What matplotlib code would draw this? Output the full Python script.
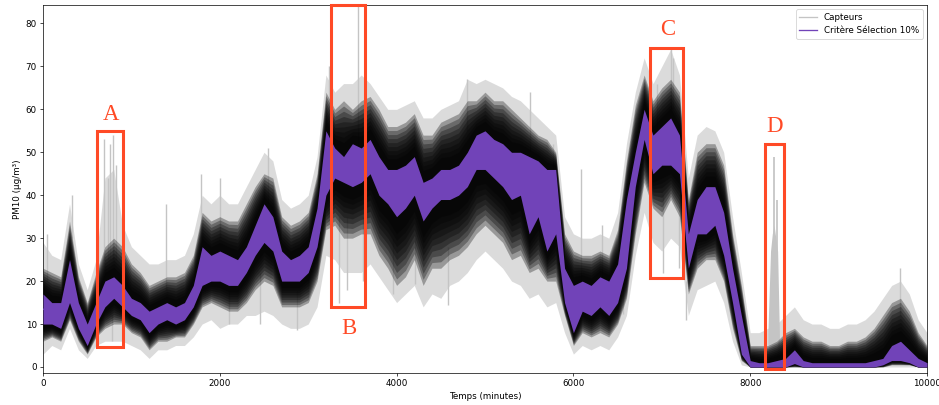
import numpy as np
import matplotlib
matplotlib.use("Agg")
import matplotlib.pyplot as plt
from matplotlib.lines import Line2D
from matplotlib.patches import Rectangle

# ---- data (minutes, PM10 µg/m³) ----
t = list(range(0, 10001, 100))
purple_lo = [10, 10, 9, 15, 9, 5, 10, 14, 16, 14, 12, 11, 8, 10, 11, 10, 11, 14, 19, 20,
             20, 19, 19, 22, 26, 29, 27, 20, 20, 20, 22, 28, 40, 44, 43, 42, 43, 45, 40, 38,
             35, 37, 40, 34, 37, 39, 39, 40, 42, 46, 46, 44, 42, 39, 40, 31, 35, 27, 31, 15,
             8, 13, 12, 14, 12, 15, 23, 42, 53, 45, 47, 47, 45, 23, 31, 31, 33, 26, 15, 3,
             0, 0, 0, 0, 0, 0.8, 0, 0, 0, 0, 0, 0, 0, 0, 0, 0.5, 1.5, 1.5, 1, 0, 0]
purple_hi = [17, 15, 15, 25, 15, 10, 15, 20, 21, 19, 16, 15, 13, 14, 15, 14, 15, 19, 28, 26,
             27, 26, 25, 28, 33, 38, 35, 27, 25, 26, 28, 37, 55, 51, 49, 52, 51, 53, 49, 46,
             46, 47, 49, 43, 44, 46, 46, 47, 50, 54, 55, 53, 52, 50, 50, 49, 48, 46, 46, 23,
             19, 20, 19, 21, 20, 24, 39, 50, 60, 54, 56, 58, 54, 31, 39, 42, 42, 36, 23, 12,
             1.5, 1, 1, 1.5, 2, 4, 1.5, 1, 1, 1, 1, 1, 1, 1, 1.5, 2, 5, 6, 4, 2, 1]
black_lo = [6, 7, 6, 11, 6, 3, 7, 9, 10, 10, 8, 7, 4, 6, 6, 7, 7, 10, 14, 15,
            14, 13, 13, 15, 18, 20, 19, 14, 14, 14, 15, 20, 32, 33, 30, 30, 31, 31, 26, 23,
            19, 21, 25, 19, 23, 23, 25, 26, 28, 31, 33, 31, 29, 25, 26, 22, 23, 20, 20, 12,
            5, 8, 7, 8, 7, 10, 16, 31, 43, 37, 35, 39, 35, 17, 23, 25, 25, 20, 9, 1.5,
            0, 0, 0, 0, 0, 0, 0, 0, 0, 0, 0, 0, 0, 0, 0, 0, 0.5, 0.5, 0.5, 0, 0]
black_hi = [23, 22, 21, 34, 21, 15, 22, 28, 30, 28, 24, 22, 19, 20, 21, 21, 22, 26, 36, 34,
            35, 34, 34, 38, 42, 45, 44, 35, 33, 34, 36, 45, 64, 60, 62, 60, 62, 63, 60, 56,
            56, 57, 59, 54, 54, 57, 58, 59, 62, 62, 64, 62, 62, 60, 58, 56, 54, 53, 50, 31,
            27, 26, 26, 27, 26, 32, 48, 61, 68, 62, 65, 67, 64, 39, 50, 52, 52, 47, 31, 19,
            5, 5, 5, 6, 8, 9, 7, 6, 6, 5, 5, 6, 6, 7, 9, 12, 15, 16, 13, 8, 5]
gray_lo = [3, 5, 4, 9, 4, 2, 5, 6, 6, 6, 5, 4, 2, 4, 4, 5, 5, 7, 10, 11,
           9, 10, 10, 12, 12, 13, 12, 10, 9, 9, 10, 14, 26, 25, 22, 22, 22, 24, 21, 18,
           15, 17, 19, 14, 17, 16, 19, 20, 22, 25, 27, 25, 23, 20, 19, 16, 17, 14, 15, 8,
           3, 5, 4, 5, 4, 7, 12, 26, 36, 29, 27, 30, 28, 12, 18, 19, 20, 15, 6, 0.5,
           0, 0, 0, 0, 0, 0, 0, 0, 0, 0, 0, 0, 0, 0, 0, 0, 0, 0, 0, 0, 0]
gray_hi = [29, 26, 25, 38, 24, 18, 25, 44, 46, 33, 28, 26, 24, 24, 25, 25, 26, 31, 40, 38,
           40, 38, 38, 42, 46, 50, 48, 39, 37, 38, 40, 49, 68, 64, 66, 66, 68, 66, 63, 60,
           60, 61, 62, 58, 58, 60, 61, 62, 67, 66, 67, 66, 65, 63, 62, 60, 58, 56, 54, 35,
           31, 30, 30, 31, 30, 36, 52, 64, 72, 66, 70, 74, 68, 44, 54, 56, 55, 50, 35, 22,
           8, 8, 9, 10, 12, 14, 11, 10, 10, 9, 9, 10, 10, 11, 13, 16, 19, 20, 17, 11, 8]

# isolated sensor spikes (upwards and downwards)
spike_up_t = [40, 330, 690, 740, 760, 790, 830, 1390, 1790, 2000, 2540, 3230, 3563,
              4800, 5510, 5770, 6086, 6320, 6950, 7100, 7130, 9695]
spike_up_base = [20, 30, 25, 25, 25, 25, 25, 18, 30, 30, 38, 55, 50,
                 55, 50, 45, 20, 20, 55, 60, 60, 12]
spike_up_top = [31, 40, 53, 44, 52, 54, 47, 38, 45, 44, 51, 70, 84,
                67, 64, 52, 46, 33, 66, 74, 72, 23]
spike_dn_t = [780, 2100, 2450, 2870, 3348, 3435, 3623, 3963, 4208, 4581,
              6565, 7017, 7194, 7274]
spike_dn_top = [12, 18, 22, 18, 35, 35, 35, 30, 30, 28, 20, 40, 40, 20]
spike_dn_bot = [6, 10, 10, 8.5, 15, 18, 20, 17, 19.4, 14.4, 12.4, 22, 23, 11]

# sensor burst in zone D
burst_t = [8200, 8230, 8250, 8270, 8290, 8310, 8330]
burst_hi = [8, 27, 31, 33, 30, 27, 8]
burst_spike_t = [8265, 8300]
burst_spike_top = [49, 39]

# annotated zones
zone_labels = ["A", "B", "C", "D"]
zone_x0 = [607, 3262, 6863, 8170]
zone_x1 = [904, 3646, 7236, 8381]
zone_y0 = [4.7, 14.0, 20.8, -0.5]
zone_y1 = [54.9, 84.4, 74.3, 52.0]
zone_lx = [768, 3457, 7066, 8279]
zone_ly = [58.8, 9.0, 78.7, 55.9]

# ---- figure ----
S = 63
fig = plt.figure(figsize=(939 / S, 405 / S), dpi=S)
ax = fig.add_axes([43 / 939, 1 - 373 / 405, (927 - 43) / 939, (373 - 5) / 405])

tt = np.array(t, dtype=float)
plo, phi = np.array(purple_lo), np.array(purple_hi)
blo, bhi = np.array(black_lo), np.array(black_hi)
glo, ghi = np.array(gray_lo), np.array(gray_hi)

GRAY = "#c4c4c4"
PURPLE = "#7143b8"
RED = "#ff4a26"

# gray sensors
ax.fill_between(tt, glo, ghi, color=GRAY, alpha=0.6, lw=0, zorder=1)
ax.vlines(spike_up_t, spike_up_base, spike_up_top, color=GRAY, lw=1.6, zorder=1)
ax.vlines(spike_dn_t, spike_dn_bot, spike_dn_top, color=GRAY, lw=1.6, zorder=1)
ax.fill_between(burst_t, 0, burst_hi, color=GRAY, lw=0, zorder=1)
ax.vlines(burst_spike_t, 0, burst_spike_top, color=GRAY, lw=2, zorder=1)

# black band, denser towards the centre (overlapping sensor traces)
for f in np.linspace(0.0, 0.75, 9):
    lo = blo + f * (plo - blo)
    hi = bhi - f * (bhi - phi)
    ax.fill_between(tt, lo, hi, color="black", alpha=0.3, lw=0, zorder=2)

# purple selection
ax.fill_between(tt, plo, phi, color=PURPLE, lw=0, zorder=3)
ax.plot(tt, (plo + phi) / 2, color=PURPLE, lw=1.5, zorder=3)

# zones
for lab, x0, x1, y0, y1, lx, ly in zip(zone_labels, zone_x0, zone_x1, zone_y0,
                                       zone_y1, zone_lx, zone_ly):
    ax.add_patch(Rectangle((x0, y0), x1 - x0, y1 - y0, fill=False, ec=RED,
                           lw=3.5, zorder=5, clip_on=False))
    ax.text(lx, ly, lab, color=RED, fontsize=26, family="Liberation Serif",
            ha="center", va="center", zorder=6)

ax.set_xlim(0, 10000)
ax.set_ylim(-1.4, 84.3)
ax.set_xticks([0, 2000, 4000, 6000, 8000, 10000])
ax.set_yticks(range(0, 81, 10))
ax.set_xlabel("Temps (minutes)")
ax.set_ylabel("PM10 (µg/m³)")

handles = [Line2D([], [], color=GRAY, lw=1.5), Line2D([], [], color=PURPLE, lw=1.5)]
ax.legend(handles, ["Capteurs", "Critère Sélection 10%"], loc="upper right")

fig.savefig("out.png", dpi=S)
